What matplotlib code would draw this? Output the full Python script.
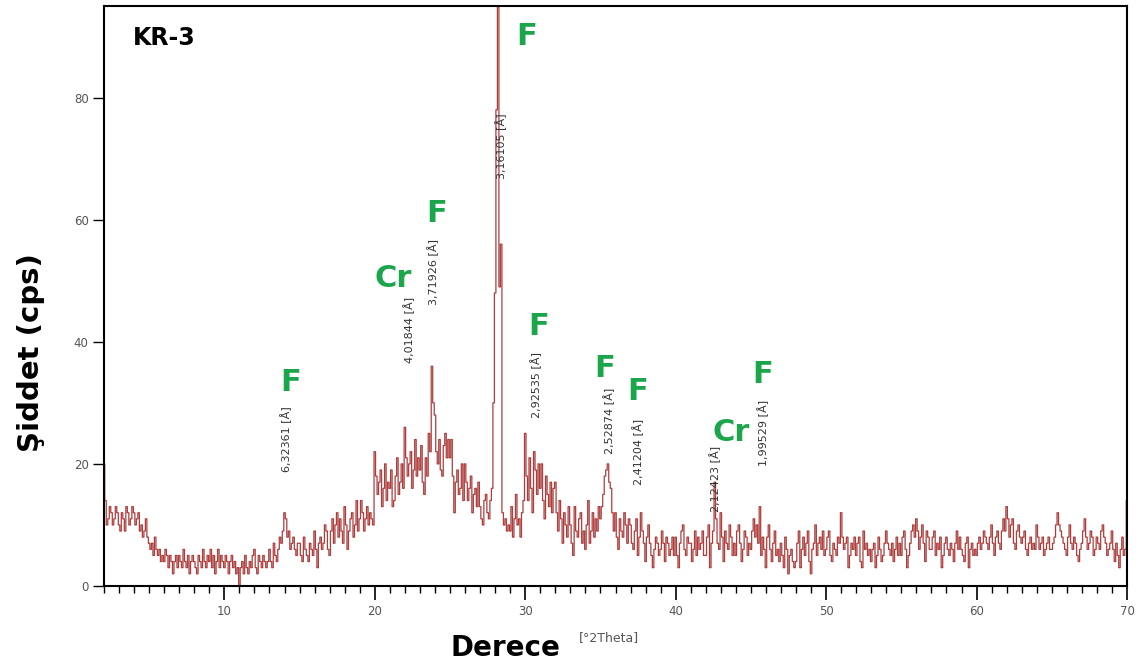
import numpy as np
import matplotlib
matplotlib.use("Agg")
import matplotlib.pyplot as plt
from matplotlib.ticker import MultipleLocator

# 2theta grid start/step (0.1 deg) and intensities
two_theta_start = 2.0
two_theta_step = 0.1
intensity = [
    20, 14, 10, 11, 13, 12, 10, 11, 13, 12,   # 2
    10, 9, 12, 11, 9, 13, 12, 10, 11, 13,     # 3
    12, 10, 11, 12, 9, 10, 8, 9, 11, 8,       # 4
    7, 6, 7, 5, 8, 6, 5, 6, 4, 5,             # 5
    4, 6, 5, 3, 5, 4, 2, 4, 5, 3,             # 6
    5, 4, 3, 6, 4, 3, 5, 2, 4, 5,             # 7
    4, 3, 2, 5, 4, 3, 6, 4, 3, 5,             # 8
    4, 6, 3, 5, 2, 4, 6, 3, 5, 4,             # 9
    3, 5, 4, 2, 4, 5, 3, 4, 2, 3,             # 10
    0, 3, 4, 2, 5, 3, 2, 4, 3, 5,             # 11
    6, 3, 2, 5, 4, 3, 5, 4, 3, 4,             # 12
    6, 4, 3, 7, 5, 4, 6, 8, 7, 9,             # 13
    12, 11, 8, 9, 6, 7, 8, 6, 5, 7,           # 14
    7, 5, 4, 8, 6, 5, 4, 7, 6, 5,             # 15
    9, 6, 3, 7, 8, 6, 7, 10, 9, 6,            # 16
    5, 9, 11, 7, 10, 12, 8, 11, 9, 7,         # 17
    13, 10, 6, 9, 11, 12, 8, 10, 14, 9,       # 18
    11, 14, 12, 9, 11, 13, 10, 12, 11, 10,    # 19
    22, 18, 15, 17, 19, 13, 16, 20, 14, 17,   # 20
    16, 19, 13, 14, 18, 21, 15, 17, 20, 16,   # 21
    26, 21, 18, 20, 22, 16, 19, 24, 18, 21,   # 22
    19, 23, 17, 15, 21, 18, 25, 22, 36, 30,   # 23
    28, 22, 20, 24, 19, 18, 23, 25, 21, 24,   # 24
    21, 24, 18, 12, 17, 19, 15, 16, 20, 14,   # 25
    20, 17, 14, 16, 18, 12, 15, 16, 13, 17,   # 26
    13, 11, 10, 14, 15, 12, 11, 14, 16, 30,   # 27
    48, 78, 97, 49, 56, 12, 10, 11, 9, 10,    # 28
    9, 13, 8, 11, 15, 10, 11, 8, 12, 14,      # 29
    25, 18, 14, 21, 16, 12, 22, 19, 15, 20,   # 30
    16, 20, 14, 11, 18, 15, 13, 17, 12, 16,   # 31
    17, 12, 9, 14, 11, 7, 12, 10, 8, 13,      # 32
    10, 7, 5, 13, 9, 8, 11, 12, 7, 9,         # 33
    6, 10, 14, 7, 9, 12, 8, 11, 9, 13,        # 34
    11, 13, 15, 18, 19, 20, 17, 16, 12, 9,    # 35
    12, 8, 6, 11, 9, 8, 12, 10, 7, 11,        # 36
    10, 7, 6, 9, 11, 5, 8, 12, 9, 7,          # 37
    4, 8, 10, 7, 5, 3, 6, 8, 7, 5,            # 38
    6, 9, 7, 4, 8, 7, 5, 6, 8, 5,             # 39
    8, 5, 3, 7, 9, 10, 6, 5, 8, 7,            # 40
    7, 4, 6, 9, 5, 8, 6, 7, 9, 5,             # 41
    5, 8, 10, 3, 7, 9, 17, 11, 7, 6,          # 42
    12, 8, 4, 9, 7, 6, 10, 8, 5, 7,           # 43
    5, 9, 10, 7, 4, 6, 9, 8, 5, 7,            # 44
    6, 9, 11, 8, 10, 7, 13, 5, 8, 6,          # 45
    3, 8, 10, 6, 4, 7, 9, 5, 6, 4,            # 46
    7, 5, 3, 8, 6, 2, 5, 6, 4, 3,             # 47
    4, 7, 9, 3, 6, 8, 5, 7, 9, 4,             # 48
    2, 6, 7, 10, 5, 7, 8, 6, 9, 5,            # 49
    6, 8, 9, 5, 4, 7, 6, 5, 8, 7,             # 50
    12, 8, 6, 7, 8, 3, 5, 7, 6, 8,            # 51
    5, 7, 8, 4, 3, 9, 6, 7, 5, 6,             # 52
    4, 6, 7, 3, 5, 8, 6, 4, 5, 7,             # 53
    9, 7, 6, 5, 7, 4, 6, 8, 5, 7,             # 54
    5, 8, 9, 6, 3, 5, 7, 9, 10, 8,            # 55
    11, 9, 6, 8, 10, 7, 4, 9, 8, 6,           # 56
    6, 8, 9, 5, 7, 6, 8, 3, 5, 7,             # 57
    8, 6, 5, 7, 6, 4, 7, 9, 6, 8,             # 58
    6, 5, 4, 7, 8, 3, 6, 7, 5, 6,             # 59
    5, 7, 8, 6, 7, 9, 8, 7, 6, 8,             # 60
    10, 7, 5, 8, 9, 7, 6, 9, 11, 9,           # 61
    13, 11, 8, 10, 11, 7, 6, 9, 10, 8,        # 62
    7, 8, 9, 6, 5, 7, 8, 6, 7, 6,             # 63
    10, 8, 6, 7, 8, 5, 6, 7, 8, 6,            # 64
    6, 7, 8, 10, 12, 10, 9, 8, 7, 6,          # 65
    5, 8, 10, 7, 6, 8, 7, 5, 4, 6,            # 66
    7, 9, 11, 8, 6, 7, 9, 8, 5, 6,            # 67
    8, 7, 6, 9, 10, 8, 7, 5, 6, 7,            # 68
    9, 6, 4, 7, 5, 3, 6, 8, 5, 6,             # 69
    14,                                       # 70
]

# d-spacing annotations: (label, x, y)
d_labels = ["6,32361 [Å]", "4,01844 [Å]", "3,71926 [Å]", "3,16105 [Å]",
            "2,92535 [Å]", "2,52874 [Å]", "2,41204 [Å]", "2,12423 [Å]",
            "1,99529 [Å]"]
d_x = [14.1, 22.3, 23.9, 28.4, 30.7, 35.6, 37.5, 42.6, 45.8]
d_y = [24.0, 42.0, 51.5, 72.0, 33.0, 27.0, 22.0, 17.5, 25.0]

# phase labels
phase_labels = ["F", "Cr", "F", "F", "F", "F", "F", "Cr", "F"]
phase_x = [14.4, 21.2, 24.1, 30.1, 30.9, 35.3, 37.5, 43.7, 45.8]
phase_y = [33.3, 50.3, 61.0, 90.0, 42.5, 35.7, 31.8, 25.2, 34.6]

x_ticks = [10, 20, 30, 40, 50, 60, 70]
y_ticks = [0, 20, 40, 60, 80]

two_theta = two_theta_start + two_theta_step * np.arange(len(intensity))

fig = plt.figure(figsize=(11.43, 6.68), dpi=100)
ax = fig.add_axes([0.091, 0.1228, 0.895, 0.868])

ax.plot(two_theta, intensity, drawstyle="steps-mid", color="#b03c3c", lw=0.9)

ax.set_xlim(2, 70)
ax.set_ylim(0, 95)
ax.set_xticks(x_ticks)
ax.set_yticks(y_ticks)
ax.xaxis.set_minor_locator(MultipleLocator(1))

for s in ax.spines.values():
    s.set_linewidth(1.5)
    s.set_color("black")

ax.tick_params(axis="x", which="major", direction="out", length=10, width=1.2,
               labelsize=8.5, labelcolor="#555555", pad=4)
ax.tick_params(axis="x", which="minor", direction="out", length=5, width=1.0)
ax.tick_params(axis="y", which="major", direction="out", length=8, width=1.0,
               labelsize=8.5, labelcolor="#555555", pad=3)

for lab, x, y in zip(d_labels, d_x, d_y):
    ax.text(x, y, lab, rotation=90, ha="center", va="center",
            fontsize=8, color="#333333")

for lab, x, y in zip(phase_labels, phase_x, phase_y):
    ax.text(x, y, lab, ha="center", va="center", fontsize=22,
            fontweight="heavy", color="#1ca64c", family="DejaVu Sans")

ax.text(0.028, 0.945, "KR-3", transform=ax.transAxes, ha="left", va="center",
        fontsize=17, fontweight="bold", color="black")

fig.text(0.442, 0.030, "Derece", ha="center", va="center", fontsize=20,
         fontweight="bold", color="black")
fig.text(0.533, 0.046, "[°2Theta]", ha="center", va="center", fontsize=9,
         color="#555555")
fig.text(0.027, 0.472, "Şiddet (cps)", rotation=90, ha="center", va="center",
         fontsize=21, fontweight="bold", color="black", family="DejaVu Sans")

fig.savefig("out.png", dpi=100, facecolor="white")
